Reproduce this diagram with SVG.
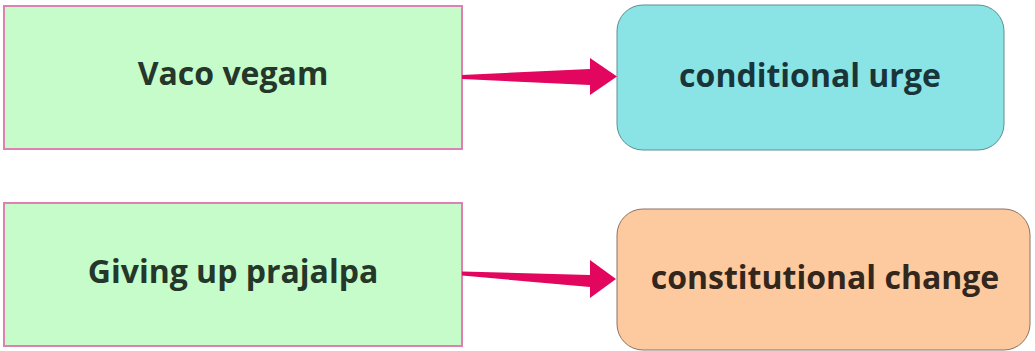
<svg xmlns="http://www.w3.org/2000/svg" width="1035" height="351" viewBox="0 0 1035 351">
<style>
.lbl{font-family:"Open Sans","Noto Sans","DejaVu Sans",sans-serif;font-weight:700;font-size:32px;text-anchor:middle}
.green{fill:#c6fcca;stroke:#df7fb2;stroke-width:2}
.arrow{fill:#e2065f}
</style>
<rect width="1035" height="351" fill="#ffffff"/>
<g id="node-vaco">
<rect class="green" x="4" y="6" width="458" height="143"/>
<text class="lbl" x="233" y="85" fill="#24372a">Vaco vegam</text>
</g>
<g id="node-conditional">
<rect x="617" y="5" width="387" height="145" rx="26" fill="#8ae4e6" stroke="#5e8e90" stroke-width="1"/>
<text class="lbl" x="810" y="87" fill="#1a3539">conditional urge</text>
</g>
<g id="node-giving">
<rect class="green" x="4" y="203" width="458" height="143"/>
<text class="lbl" x="233" y="283" fill="#24372a">Giving up prajalpa</text>
</g>
<g id="node-constitutional">
<rect x="617" y="209" width="413" height="141" rx="26" fill="#fdca9f" stroke="#8a7464" stroke-width="1"/>
<text class="lbl" x="825" y="289" fill="#33271d">constitutional change</text>
</g>
<g id="connectors">
<path class="arrow" d="M462,75 L590,69 L590,58 L617,76.5 L590,95 L590,85 L462,79 Z"/>
<path class="arrow" d="M462,271.5 L590,275 L590,260 L616,279 L590,298 L590,287 L462,275.5 Z"/>
</g>
</svg>
